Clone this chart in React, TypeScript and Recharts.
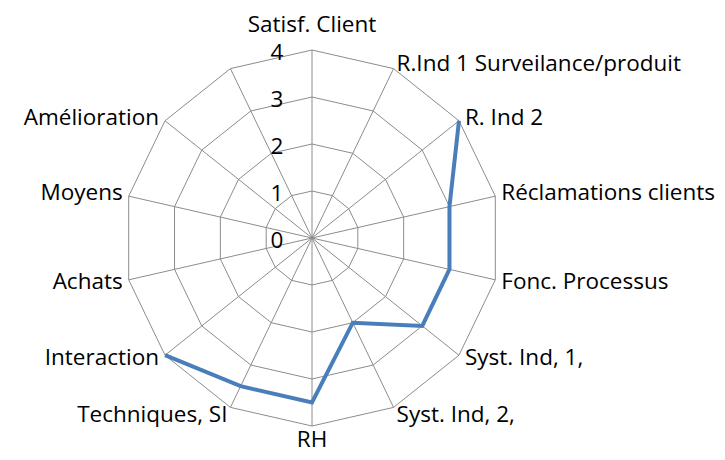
import React from 'react';
import { RadarChart, PolarGrid, PolarAngleAxis, PolarRadiusAxis, Radar } from 'recharts';

const categories = [
  'Satisf. Client',
  'R.Ind 1 Surveilance/produit',
  'R. Ind 2',
  'Réclamations clients',
  'Fonc. Processus',
  'Syst. Ind, 1,',
  'Syst. Ind, 2,',
  'RH',
  'Techniques, SI',
  'Interaction',
  'Achats',
  'Moyens',
  'Amélioration',
  '',
];
const scores: (number | null)[] = [null, null, 4, 3, 3, 3, 2, 3.5, 3.5, 4, null, null, null, null];
const radiusTicks = [0, 1, 2, 3, 4];

const data = categories.map((name, i) => ({ name, score: scores[i] }));

const W = 709;
const H = 452;
const CX = 304;
const CY = 230;
const R = 188;
const FONT = '"Open Sans", sans-serif';
const FS = 22.5;

const AngleTick = (props: any) => {
  const { payload } = props;
  if (!payload || !payload.value) return null;
  const a = (payload.coordinate * Math.PI) / 180;
  const ux = Math.cos(a);
  const uy = -Math.sin(a);
  const vx = CX + R * ux;
  const vy = CY + R * uy;
  let x = vx;
  let y = vy;
  let anchor: 'start' | 'middle' | 'end' = 'middle';
  if (Math.abs(ux) < 0.05) {
    y = uy < 0 ? vy - 26 : vy + 13;
  } else {
    const steep = Math.abs(uy) > 0.85;
    anchor = ux > 0 ? 'start' : 'end';
    x = vx + (ux > 0 ? 1 : -1) * (steep ? 3 : 6);
    y = vy + (uy < 0 ? -4 : 1.5) + (steep ? (uy < 0 ? -1 : 5) : 0);
  }
  return (
    <text x={x} y={y} dy="0.35em" textAnchor={anchor} fill="#000" fontSize={FS} fontFamily={FONT}>
      {payload.value}
    </text>
  );
};

const RadiusTick = (props: any) => {
  const { x, y, payload } = props;
  return (
    <text x={x - 35} y={y + 2} dy="0.35em" textAnchor="middle" fill="#000" fontSize={FS} fontFamily={FONT}>
      {payload.value}
    </text>
  );
};

// open line through the defined points only
const OpenLine = (props: any) => {
  const pts = (props.points || []).filter((p: any) => p.payload && p.payload.score != null);
  const d = pts.map((p: any) => `${p.x},${p.y}`).join(' ');
  return <polyline points={d} fill="none" stroke="#4A7EBB" strokeWidth={4} strokeLinejoin="miter" />;
};

export default function App() {
  return (
    <RadarChart width={W} height={H} data={data} cx={CX} cy={CY} outerRadius={R}>
      <PolarGrid gridType="polygon" stroke="#8c8c8c" strokeWidth={1} />
      <PolarAngleAxis dataKey="name" tick={<AngleTick />} tickLine={false} axisLine={false} />
      <PolarRadiusAxis
        angle={90}
        domain={[0, 4]}
        ticks={radiusTicks as any}
        tickCount={5}
        tick={<RadiusTick />}
        axisLine={false}
        tickLine={false}
      />
      <Radar dataKey="score" shape={<OpenLine />} isAnimationActive={false} dot={false} />
    </RadarChart>
  );
}
